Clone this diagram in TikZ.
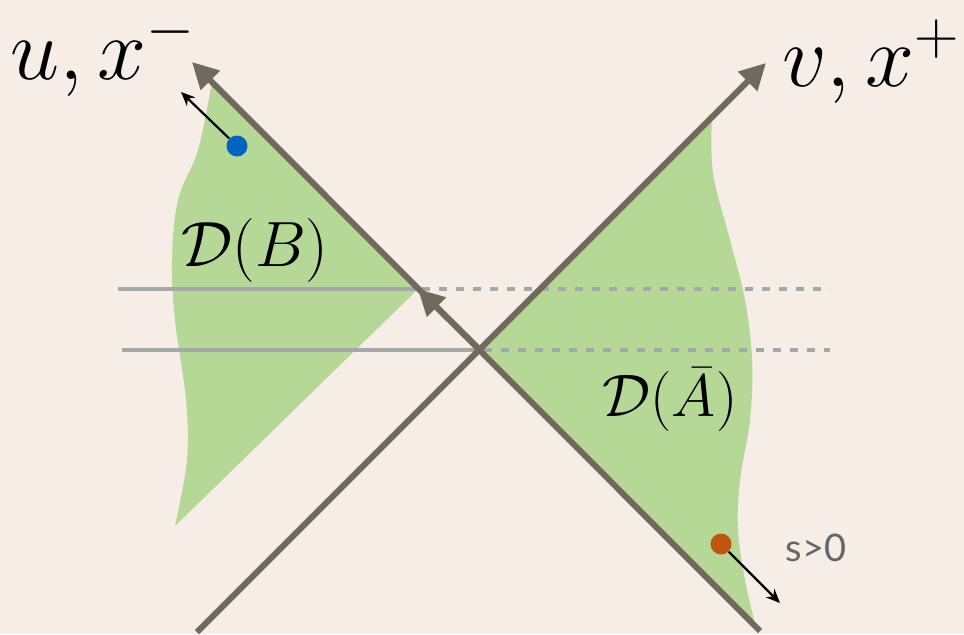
\documentclass[tikz,border=0pt]{standalone}
\usepackage{fix-cm}
\usepackage{amsmath}
\usepackage{fontspec}
\newfontfamily\signfont{Lato}
\usetikzlibrary{arrows.meta}
\definecolor{ColBack}{HTML}{F5EDE6}
\definecolor{ColAxis}{HTML}{6F6A5C}
\definecolor{ColWedge}{HTML}{B5D897}
\definecolor{ColSlice}{HTML}{A6A8A7}
\definecolor{ColBlue}{HTML}{0264BF}
\definecolor{ColOrange}{HTML}{BF550E}
\definecolor{ColSign}{HTML}{666666}

\begin{document}
\begin{tikzpicture}[
  x=0.5pt, y=-0.5pt,
  line cap=butt,
  line join=round,
  axis/.style={ColAxis, line width=3pt, -{Triangle[length=13pt,width=13pt]}},
  slice/.style={ColSlice, line width=2pt},
  probe/.style={->, black, line width=1.1pt, >={Stealth[length=7pt,width=6pt]}},
  dot/.style={circle, inner sep=0pt, minimum size=10.5pt}
]
  \useasboundingbox (0,0) rectangle (964,634);
  \fill[ColBack] (0,0) rectangle (964,634);

  \coordinate (vS) at (197,632);
  \coordinate (vE) at (766,63);
  \coordinate (uS) at (760,631);
  \coordinate (uE) at (192,62);
  \coordinate (O)  at (479.5,349.5);
  \coordinate (M)  at (418,289);
  \coordinate (sA1) at (118,289);
  \coordinate (sA2) at (830,289);
  \coordinate (sB1) at (122,349.5);
  \coordinate (sB2) at (830,349.5);

  % Domains of dependence
  \fill[ColWedge] (212,82) -- (M) -- (175,526)
    -- plot[smooth, tension=0.6] coordinates {(175,526) (187,460) (186,400) (175,320) (172,260) (178,200) (198,150) (212,82)} -- cycle;
  \fill[ColWedge] (O) -- (712,117)
    -- plot[smooth, tension=0.6] coordinates {(712,117) (713,173) (730,240) (745,300) (752,360) (750,420) (740,480) (738,530) (745,580) (755,624)} -- cycle;

  % Time slices
  \draw[slice] (sA1) -- (M);
  \draw[slice, dash pattern=on 4pt off 4.5pt, dash phase=-2pt] (M) -- (sA2);
  \draw[slice] (sB1) -- (O);
  \draw[slice, dash pattern=on 4pt off 4.5pt, dash phase=-2pt] (O) -- (sB2);

  % Light-cone axes
  \draw[axis] (vS) -- (vE);
  \draw[axis] (uS) -- (uE);
  \draw[axis] (O) -- (M);

  % Points and their motion
  \node[dot, fill=ColBlue]   (pB) at (237,146) {};
  \node[dot, fill=ColOrange] (pA) at (721,544) {};
  \coordinate (qB) at (181,92);
  \coordinate (qA) at (780,603);
  \draw[probe] (pB) -- (qB);
  \draw[probe] (pA) -- (qA);

  % Labels
  \node (lu) at (103,54) {\fontsize{44}{48}\selectfont $u,x^-$};
  \node (lv) at (871,62) {\fontsize{44}{48}\selectfont $v,x^+$};
  \node (lB) at (255,250) {\fontsize{32}{36}\selectfont $\mathcal{D}(B)$};
  \node (lA) at (670,400) {\fontsize{30}{34}\selectfont $\mathcal{D}(\bar{A})$};
  \node[text=ColSign] (ls) at (816,548) {\signfont\fontsize{19}{22}\selectfont s>0};
\end{tikzpicture}
\end{document}
